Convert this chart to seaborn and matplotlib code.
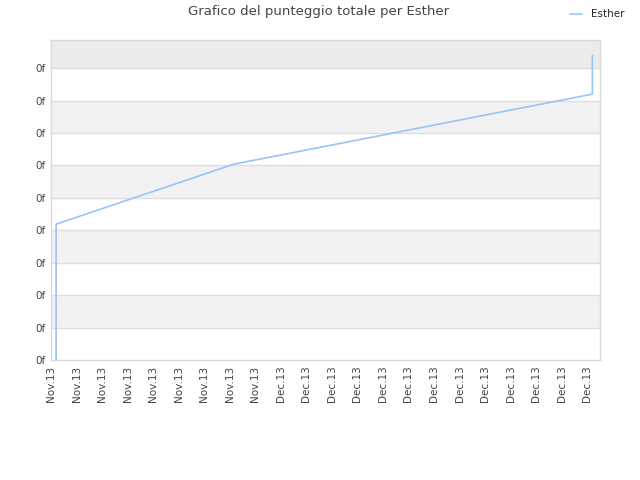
import numpy as np
import pandas as pd
import matplotlib
matplotlib.use("Agg")
import matplotlib.pyplot as plt
import seaborn as sns

# data (x in tick-slot units, y in tick-step units)
x_vals = [0.2, 0.2, 7.16, 21.2, 21.2]
y_vals = [0.0, 4.19, 6.04, 8.2, 9.4]
tick_labels = ["Nov.13"] * 9 + ["Dec.13"] * 13
y_tick_labels = ["0f"] * 10

sns.set_theme(style="white")
plt.rcParams["font.family"] = ["DejaVu Sans"]

df = pd.DataFrame({"x": x_vals, "y": y_vals, "who": "Esther"})

fig = plt.figure(figsize=(6.4, 4.8), dpi=100)
ax = fig.add_axes([51 / 640, 120 / 480, 549 / 640, 320 / 480])

# alternating bands
n_ticks = len(y_tick_labels)
for i in range(n_ticks - 1):
    if i % 2 == 0:
        continue
    ax.axhspan(i, i + 1, color="#f2f2f2", zorder=0, lw=0)
ax.axhspan(n_ticks - 1, 9.87, color="#ececec", zorder=0, lw=0)
for i in range(1, n_ticks):
    ax.axhline(i, color="#dedede", lw=1, zorder=1)

sns.lineplot(data=df, x="x", y="y", hue="who", palette=["#99c5f4"],
             sort=False, estimator=None, lw=1.2, ax=ax, zorder=3)

ax.set_xlim(0, 21.5)
ax.set_ylim(0, 9.87)
ax.set_xticks(np.arange(len(tick_labels)))
ax.set_xticklabels(tick_labels, rotation=90, fontsize=7.5, color="#444444")
ax.set_yticks(np.arange(n_ticks))
ax.set_yticklabels(y_tick_labels, fontsize=7.5, color="#444444")
ax.tick_params(axis="both", length=0, pad=4)
ax.set_xlabel("")
ax.set_ylabel("")
for s in ax.spines.values():
    s.set_color("#d9d9d9")
    s.set_linewidth(1)

ax.legend_.remove()
handles, labels = ax.get_legend_handles_labels()
fig.legend(handles, labels, loc="upper right", bbox_to_anchor=(0.99, 1.0),
           frameon=False, fontsize=7.5, handlelength=1.2)

fig.suptitle("Grafico del punteggio totale per Esther", x=0.497, y=0.99,
             fontsize=9.5, color="#444444")

fig.savefig("out.png", dpi=100)
